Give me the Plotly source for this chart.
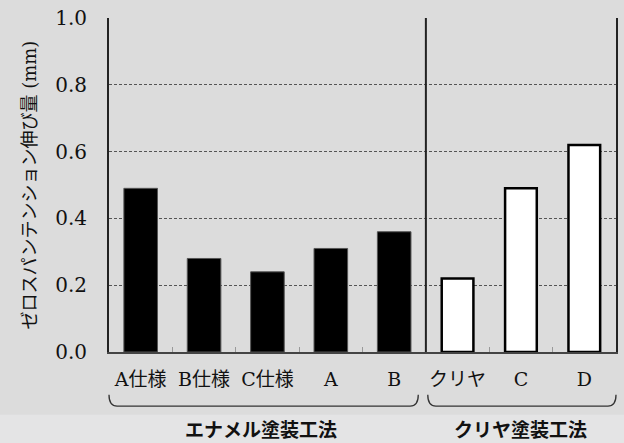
import plotly.graph_objects as go

# Zero-span tension elongation by coating method
enamel_labels = ["A仕様", "B仕様", "C仕様", "A", "B"]
enamel_values = [0.49, 0.28, 0.24, 0.31, 0.36]
clear_labels = ["クリヤ", "C", "D"]
clear_values = [0.22, 0.49, 0.62]
group_names = ["エナメル塗装工法", "クリヤ塗装工法"]
y_ticks = [0.0, 0.2, 0.4, 0.6, 0.8, 1.0]

categories = enamel_labels + clear_labels
n_cat = len(categories)

SERIF = "DejaVu Serif, Liberation Serif, serif"
GOTHIC = "Noto Sans CJK JP, sans-serif"
BG = "#dcdcdc"

fig = go.Figure()
fig.add_trace(go.Bar(
    x=enamel_labels, y=enamel_values, width=0.53,
    marker=dict(color="black", line=dict(color="#555555", width=1)),
    showlegend=False,
))
fig.add_trace(go.Bar(
    x=clear_labels, y=clear_values, width=0.5,
    marker=dict(color="white", line=dict(color="black", width=2.5)),
    showlegend=False,
))


def px(i):
    """Paper x position of a category boundary/centre index."""
    return (i + 0.5) / n_cat


shapes = [
    # lighter strip at the very bottom
    dict(type="rect", xref="paper", yref="paper", x0=-0.3, x1=1.1,
         y0=-0.29, y1=-0.188, fillcolor="#e4e4e5", line=dict(width=0),
         layer="below"),
    # separator between the two coating methods
    dict(type="line", xref="x", yref="paper", x0=len(enamel_labels) - 0.5,
         x1=len(enamel_labels) - 0.5, y0=0, y1=1,
         line=dict(color="#222222", width=2)),
]

# group brackets below the category labels
y_top, y_bot, r = -0.128, -0.162, 0.016
spans = [(-0.5, len(enamel_labels) - 0.5 - 0.12),
         (len(enamel_labels) - 0.5 + 0.03, n_cat - 0.5)]
for a, b in spans:
    x0, x1 = px(a), px(b)
    path = (f"M {x0},{y_top} Q {x0},{y_bot} {x0 + r},{y_bot} "
            f"L {x1 - r},{y_bot} Q {x1},{y_bot} {x1},{y_top}")
    shapes.append(dict(type="path", xref="paper", yref="paper", path=path,
                       line=dict(color="#333333", width=1.3)))

annotations = []
centres = [(-0.5 + len(enamel_labels) - 0.5) / 2 - 0.1,
           (len(enamel_labels) - 0.5 + n_cat - 0.5) / 2]
for name, c in zip(group_names, centres):
    annotations.append(dict(
        text=f"<b>{name}</b>", xref="paper", yref="paper", x=px(c), y=-0.229,
        showarrow=False, font=dict(family=GOTHIC, size=19, color="#111111"),
        xanchor="center", yanchor="middle"))

fig.update_layout(
    width=624, height=443,
    margin=dict(l=109, r=6, t=17, b=91),
    paper_bgcolor=BG, plot_bgcolor=BG,
    barmode="overlay",
    shapes=shapes, annotations=annotations,
    xaxis=dict(
        type="category", categoryorder="array", categoryarray=categories,
        range=[-0.5, n_cat - 0.5],
        tickson="boundaries", ticks="inside", ticklen=5, tickcolor="#999999",
        tickwidth=1, tickangle=0,
        showline=True, linecolor="#444444", linewidth=2, mirror=False,
        showgrid=False,
        tickfont=dict(family=SERIF + ", " + GOTHIC, size=19, color="#111111"),
        ticklabelstandoff=9,
    ),
    yaxis=dict(
        range=[0, 1], tickvals=y_ticks,
        ticktext=[f"{v:.1f}" for v in y_ticks],
        ticks="", showline=True, linecolor="#222222", linewidth=2,
        mirror=True,
        showgrid=True, gridcolor="#555555", griddash="3px,2px", gridwidth=1,
        zeroline=False,
        tickfont=dict(family=SERIF, size=20, color="#111111"),
        ticklabelstandoff=16,
        title=dict(
            text=("ゼロスパンテンション伸び量"
                  f"<span style='font-family:{SERIF}'> (mm)</span>"),
            font=dict(family=GOTHIC, size=18, color="#111111"),
            standoff=14,
        ),
    ),
)

fig.write_html("out.html")
